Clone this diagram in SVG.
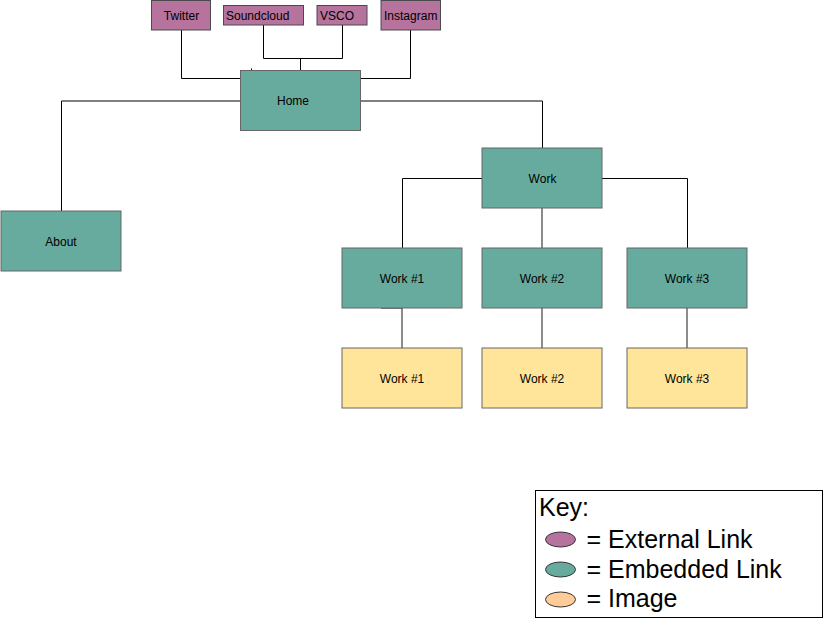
<svg xmlns="http://www.w3.org/2000/svg" width="826" height="621" viewBox="0 0 826 621">
  <style>
    .ext { fill: #B5739D; stroke: #4a4a4a; stroke-width: 1; }
    .emb { fill: #67AB9F; stroke: #666666; stroke-width: 1; }
    .img { fill: #FFE599; stroke: #666666; stroke-width: 1; }
    .lbl { font-family: "Liberation Sans", Arial, Helvetica, sans-serif; font-size: 12px; fill: #000000; }
    .mid { text-anchor: middle; }
    .edge { fill: none; stroke: #000000; stroke-width: 1; }
    .edge2 { fill: none; stroke: #808080; stroke-width: 1.8; }
    .key { font-family: "Liberation Sans", Arial, Helvetica, sans-serif; font-size: 25px; fill: #000000; }
  </style>
  <rect width="826" height="621" fill="#ffffff"/>
  <g id="connectors">
    <path class="edge" d="M181.5 30 V78.5 H240.5"/>
    <path class="edge" d="M410.5 30 V78.5 H360.5"/>
    <path class="edge" d="M263.5 25 V58.5 H342.5 V25"/>
    <path class="edge" d="M300.5 58.5 V90.5"/>
    <path class="edge" d="M251.5 68.5 V70.5"/>
    <path class="edge" d="M240.5 101 H61.5 V211"/>
    <path class="edge" d="M360.5 101 H542.5 V148"/>
    <path class="edge" d="M482 178.5 H402.5 V248"/>
    <path class="edge" d="M602 178.5 H687.5 V248"/>
    <path class="edge2" d="M542 208 V248"/>
    <path class="edge2" d="M402 308 V348"/>
    <path class="edge" d="M381 308 H402"/>
    <path class="edge2" d="M542 308 V348"/>
    <path class="edge2" d="M687 308 V348"/>
  </g>
  <g id="node-twitter">
    <rect class="ext" x="151.5" y="0.5" width="59" height="29.5"/>
    <text class="lbl mid" x="181.5" y="20">Twitter</text>
  </g>
  <g id="node-soundcloud">
    <rect class="ext" x="223.5" y="5.5" width="80" height="19.5"/>
    <text class="lbl" x="226" y="20">Soundcloud</text>
  </g>
  <g id="node-vsco">
    <rect class="ext" x="317" y="5.5" width="50" height="19.5"/>
    <text class="lbl" x="320" y="20">VSCO</text>
  </g>
  <g id="node-instagram">
    <rect class="ext" x="381" y="0.5" width="59.5" height="29.5"/>
    <text class="lbl mid" x="410.7" y="20">Instagram</text>
  </g>
  <g id="node-home">
    <rect class="emb" x="240.5" y="70.5" width="120" height="60"/>
    <text class="lbl mid" x="293" y="104.5">Home</text>
  </g>
  <g id="node-about">
    <rect class="emb" x="1" y="211" width="120" height="60"/>
    <text class="lbl mid" x="61" y="246">About</text>
  </g>
  <g id="node-work">
    <rect class="emb" x="482" y="148" width="120" height="60"/>
    <text class="lbl mid" x="542.5" y="182.5">Work</text>
  </g>
  <g id="node-work1">
    <rect class="emb" x="342" y="248" width="120" height="60"/>
    <text class="lbl mid" x="402" y="282.5">Work #1</text>
  </g>
  <g id="node-work2">
    <rect class="emb" x="482" y="248" width="120" height="60"/>
    <text class="lbl mid" x="542" y="282.5">Work #2</text>
  </g>
  <g id="node-work3">
    <rect class="emb" x="627" y="248" width="120" height="60"/>
    <text class="lbl mid" x="687" y="282.5">Work #3</text>
  </g>
  <g id="node-img1">
    <rect class="img" x="342" y="348" width="120" height="60"/>
    <text class="lbl mid" x="402" y="382.5">Work #1</text>
  </g>
  <g id="node-img2">
    <rect class="img" x="482" y="348" width="120" height="60"/>
    <text class="lbl mid" x="542" y="382.5">Work #2</text>
  </g>
  <g id="node-img3">
    <rect class="img" x="627" y="348" width="120" height="60"/>
    <text class="lbl mid" x="687" y="382.5">Work #3</text>
  </g>
  <g id="key">
    <rect x="535.5" y="490.5" width="287" height="127" fill="#ffffff" stroke="#000000" stroke-width="1"/>
    <text class="key" x="539" y="516" font-size="24">Key:</text>
    <ellipse cx="560.5" cy="539.5" rx="15" ry="7.5" fill="#B5739D" stroke="#333333"/>
    <text class="key" x="586.5" y="547.5">= External Link</text>
    <ellipse cx="560.5" cy="569.5" rx="15" ry="7.5" fill="#67AB9F" stroke="#333333"/>
    <text class="key" x="586.5" y="577.5">= Embedded Link</text>
    <ellipse cx="560.5" cy="599.5" rx="15" ry="7.5" fill="#FFCC99" stroke="#333333"/>
    <text class="key" x="586.5" y="607">= Image</text>
  </g>
</svg>
